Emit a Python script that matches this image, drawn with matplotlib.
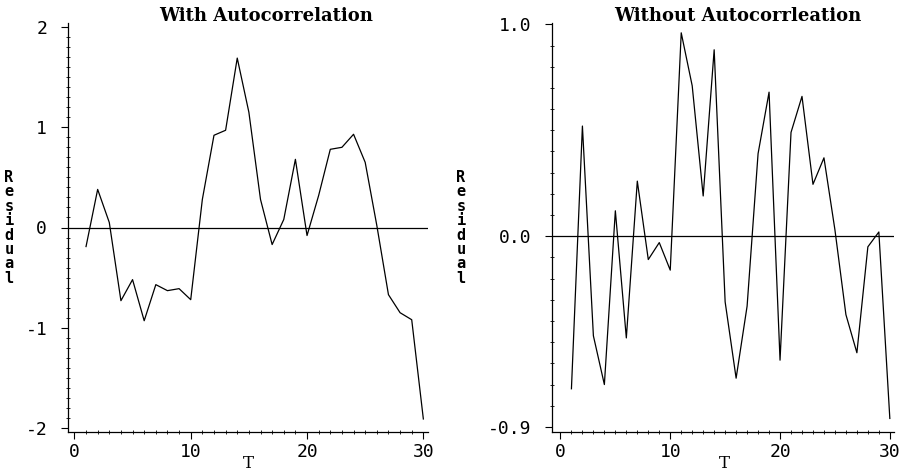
import numpy as np
import matplotlib
matplotlib.use("Agg")
import matplotlib.pyplot as plt
from matplotlib.ticker import MultipleLocator

# residuals, T = 1..30
t = np.arange(1, 31)
resid_auto = [-0.19, 0.38, 0.05, -0.73, -0.52, -0.93, -0.57, -0.63, -0.61, -0.72,
              0.28, 0.92, 0.97, 1.69, 1.15, 0.28, -0.17, 0.08, 0.68, -0.08,
              0.32, 0.78, 0.80, 0.93, 0.65, 0.02, -0.67, -0.85, -0.92, -1.91]
resid_noauto = [-0.72, 0.52, -0.47, -0.70, 0.12, -0.48, 0.26, -0.11, -0.03, -0.16,
                0.96, 0.71, 0.19, 0.88, -0.31, -0.67, -0.33, 0.39, 0.68, -0.585,
                0.49, 0.66, 0.245, 0.37, 0.03, -0.37, -0.55, -0.05, 0.02, -0.86]

titles = ["With Autocorrelation", "Without Autocorrleation"]
x_ticks = [0, 10, 20, 30]
x_ticklabels = ["0", "10", "20", "30"]
left_yticks = [-2, -1, 0, 1, 2]
left_yticklabels = ["-2", "-1", "0", "1", "2"]
right_yticks = [-0.9, 0.0, 1.0]
right_yticklabels = ["-0.9", "0.0", "1.0"]

tick_font = {"family": "DejaVu Sans Mono", "size": 13}
title_font = {"family": "DejaVu Serif", "weight": "bold", "size": 13}

fig = plt.figure(figsize=(9.12, 4.74), dpi=100)
ax1 = fig.add_axes([68 / 912, 1 - 432 / 474, 360 / 912, 409 / 474])
ax2 = fig.add_axes([552 / 912, 1 - 432 / 474, 342 / 912, 408.5 / 474])


def style_axis(ax, yticks, yticklabels, yminor):
    for side in ("top", "right"):
        ax.spines[side].set_visible(False)
    for side in ("left", "bottom"):
        ax.spines[side].set_linewidth(0.9)
    ax.axhline(0, color="black", linewidth=0.9)
    ax.set_xticks(x_ticks)
    ax.set_xticklabels(x_ticklabels, fontdict=tick_font)
    ax.set_yticks(yticks)
    ax.set_yticklabels(yticklabels, fontdict=tick_font)
    ax.xaxis.set_minor_locator(MultipleLocator(1))
    ax.yaxis.set_minor_locator(MultipleLocator(yminor))
    ax.tick_params(which="major", direction="out", length=5, width=0.8)
    ax.tick_params(axis="x", which="major", pad=3)
    ax.tick_params(axis="y", which="major", pad=10)
    ax.tick_params(which="minor", direction="inout", length=3, width=0.6)


ax1.plot(t, resid_auto, color="black", linewidth=0.9)
ax1.set_xlim(-0.55, 30.4)
ax1.set_ylim(-2.04, 2.04)
style_axis(ax1, left_yticks, left_yticklabels, 0.1)

ax2.plot(t, resid_noauto, color="black", linewidth=0.9)
ax2.set_xlim(-0.77, 30.38)
ax2.set_ylim(-0.924, 1.004)
style_axis(ax2, right_yticks, right_yticklabels, 0.1)

# x labels placed in figure coordinates so they stay inside the canvas
for xpos in (248 / 912, 724 / 912):
    fig.text(xpos, 1 - 463 / 474, "T", ha="center", va="center",
             family="DejaVu Serif", fontsize=12)

# stacked vertical "Residual" labels
for xpos in (9 / 912, 461 / 912):
    fig.text(xpos, 1 - 228 / 474, "\n".join("Residual"), ha="center", va="center",
             family="DejaVu Sans Mono", fontsize=11, fontweight="bold", linespacing=0.95)

fig.text(159 / 912, 1 - 16 / 474, titles[0], ha="left", va="center", fontdict=title_font)
fig.text(614 / 912, 1 - 16 / 474, titles[1], ha="left", va="center", fontdict=title_font)

fig.savefig("out.png", dpi=100)
